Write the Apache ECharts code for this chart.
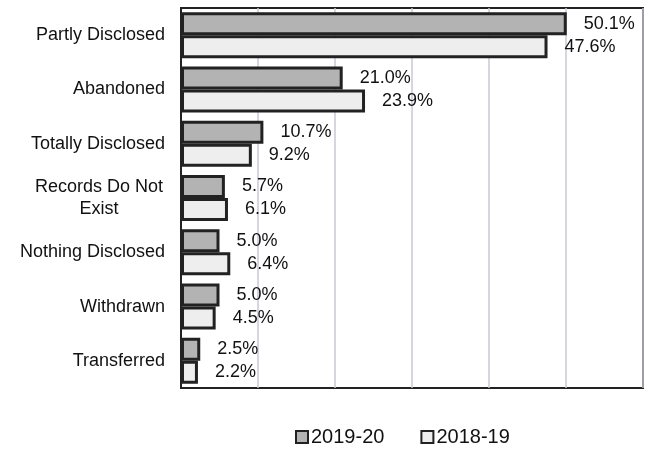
<!DOCTYPE html>
<html>
<head>
<meta charset="utf-8">
<script src="https://cdn.jsdelivr.net/npm/echarts@6/dist/echarts.min.js"></script>
<style>
  html, body { margin: 0; padding: 0; background: #fff; }
  #chart { width: 652px; height: 455px; }
</style>
</head>
<body>
<div id="chart"></div>
<script>
const categories = [
  'Partly Disclosed',
  'Abandoned',
  'Totally Disclosed',
  'Records Do Not\nExist',
  'Nothing Disclosed',
  'Withdrawn',
  'Transferred'
]
const values2019 = [50.1, 21.0, 10.7, 5.7, 5.0, 5.0, 2.5]
const values2018 = [47.6, 23.9, 9.2, 6.1, 6.4, 4.5, 2.2]

const chart = echarts.init(document.getElementById('chart'))

const labelStyle = {
  show: true,
  position: 'right',
  distance: 17,
  fontFamily: 'Liberation Sans, Arial, sans-serif',
  fontSize: 18,
  color: '#111',
  formatter: p => p.value.toFixed(1) + '%'
}

const option = {
  animation: false,
  grid: {
    left: 181,
    right: 9,
    top: 8,
    bottom: 67,
    show: true,
    borderColor: '#222',
    borderWidth: 2
  },
  legend: {
    bottom: 3,
    left: 290,
    icon: 'rect',
    itemWidth: 12,
    itemHeight: 12,
    itemGap: 36,
    textStyle: {
      fontFamily: 'Liberation Sans, Arial, sans-serif',
      fontSize: 20,
      color: '#111',
      padding: [0, 0, 0, -2]
    },
    data: ['2019-20', '2018-19']
  },
  xAxis: {
    type: 'value',
    min: 0,
    max: 60,
    interval: 10,
    axisLabel: { show: false },
    axisTick: { show: false },
    axisLine: { show: false },
    splitLine: { lineStyle: { color: '#c9cad3', width: 1.5 } }
  },
  yAxis: {
    type: 'category',
    inverse: true,
    data: categories,
    axisTick: { show: false },
    axisLine: { lineStyle: { color: '#222', width: 2 } },
    axisLabel: {
      margin: 16,
      fontFamily: 'Liberation Sans, Arial, sans-serif',
      fontSize: 18,
      color: '#111',
      lineHeight: 22,
      formatter: v => v.includes('\n') ? '{c|' + v + '}' : v,
      rich: {
        c: {
          align: 'center',
          width: 132,
          fontFamily: 'Liberation Sans, Arial, sans-serif',
          fontSize: 18,
          lineHeight: 22,
          color: '#111'
        }
      }
    }
  },
  series: [
    {
      name: '2019-20',
      type: 'bar',
      data: values2019,
      barWidth: 23,
      barGap: '0%',
      itemStyle: { color: '#b3b3b3', borderColor: '#222', borderWidth: 3 },
      label: labelStyle
    },
    {
      name: '2018-19',
      type: 'bar',
      data: values2018,
      barWidth: 23,
      barGap: '0%',
      itemStyle: { color: '#eeeeee', borderColor: '#222', borderWidth: 3 },
      label: labelStyle
    }
  ]
}

chart.setOption(option)
</script>
</body>
</html>
